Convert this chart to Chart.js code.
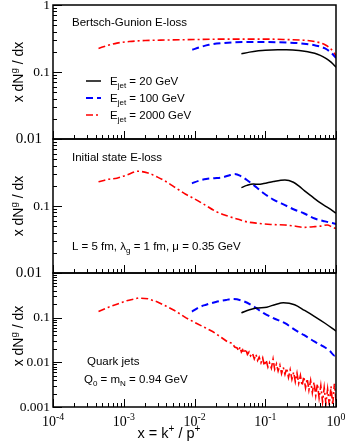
<!DOCTYPE html>
<html lang="en">
<head>
  <meta charset="UTF-8">
  <title>x dN/dx gluon spectra</title>
  <script src="https://cdn.jsdelivr.net/npm/chart.js"></script>
  <style>
    body { margin: 0; background: #fff; }
    #wrap { position: relative; width: 346px; height: 447px; }
    #wrap canvas { position: absolute; left: 0; top: 0; }
  </style>
</head>
<body>
<div id="wrap">
  <canvas id="c1" width="346" height="447"></canvas>
  <canvas id="c2" width="346" height="447"></canvas>
  <canvas id="c3" width="346" height="447"></canvas>
</div>

<script>
  // x axis ticks (log), shared by all panels
  const xTickExps = [-4, -3, -2, -1, 0];

  // Bertsch-Gunion E-loss
  const bgBlackX = [0.046, 0.06, 0.08, 0.1, 0.15, 0.2, 0.3, 0.4, 0.5, 0.6, 0.7, 0.8, 0.9, 1.0];
  const bgBlackY = [0.187, 0.198, 0.207, 0.212, 0.215, 0.215, 0.21, 0.2, 0.19, 0.177, 0.163, 0.148, 0.133, 0.118];
  const bgBlueX = [0.0093, 0.012, 0.016, 0.025, 0.05, 0.1, 0.2, 0.35, 0.5, 0.7, 0.85, 1.0];
  const bgBlueY = [0.215, 0.235, 0.255, 0.27, 0.28, 0.28, 0.275, 0.265, 0.25, 0.225, 0.195, 0.162];
  const bgRedX = [0.00044, 0.0006, 0.0008, 0.0012, 0.002, 0.004, 0.01, 0.03, 0.1, 0.2, 0.35, 0.5, 0.7, 0.85, 1.0];
  const bgRedY = [0.225, 0.25, 0.27, 0.285, 0.295, 0.30, 0.305, 0.31, 0.31, 0.305, 0.298, 0.285, 0.255, 0.22, 0.175];

  // Initial state E-loss
  const isBlackX = [0.046, 0.055, 0.068, 0.08, 0.095, 0.13, 0.19, 0.25, 0.3, 0.36, 0.45, 0.61, 0.8, 1.0];
  const isBlackY = [0.188, 0.203, 0.213, 0.211, 0.216, 0.232, 0.244, 0.226, 0.198, 0.168, 0.14, 0.11, 0.092, 0.078];
  const isBlueX = [0.0092, 0.0115, 0.0146, 0.019, 0.025, 0.032, 0.037, 0.045, 0.055, 0.075, 0.095, 0.13, 0.19, 0.26, 0.35, 0.5, 0.7, 1.0];
  const isBlueY = [0.218, 0.238, 0.253, 0.26, 0.268, 0.29, 0.30, 0.28, 0.244, 0.19, 0.155, 0.125, 0.103, 0.088, 0.078, 0.065, 0.059, 0.054];
  const isRedX = [0.00044, 0.0006, 0.0008, 0.0011, 0.0016, 0.0022, 0.003, 0.004, 0.0055, 0.0075, 0.01, 0.014, 0.02, 0.028, 0.04, 0.055, 0.08, 0.12, 0.19, 0.27, 0.35, 0.48, 0.6, 0.75, 0.9, 1.0];
  const isRedY = [0.23, 0.25, 0.26, 0.29, 0.33, 0.31, 0.27, 0.23, 0.185, 0.15, 0.128, 0.104, 0.083, 0.072, 0.064, 0.058, 0.055, 0.053, 0.052, 0.05, 0.048, 0.049, 0.05, 0.052, 0.048, 0.046];

  // Final state E-loss
  const fsBlackX = [0.046, 0.06, 0.075, 0.105, 0.14, 0.18, 0.26, 0.36, 0.5, 0.7, 1.0];
  const fsBlackY = [0.128, 0.15, 0.164, 0.172, 0.198, 0.215, 0.195, 0.145, 0.106, 0.075, 0.05];
  const fsBlueX = [0.0092, 0.0115, 0.0146, 0.02, 0.028, 0.035, 0.049, 0.07, 0.095, 0.13, 0.19, 0.26, 0.35, 0.5, 0.65, 0.82, 0.95, 1.0];
  const fsBlueY = [0.137, 0.17, 0.195, 0.225, 0.25, 0.262, 0.235, 0.175, 0.126, 0.098, 0.075, 0.054, 0.041, 0.029, 0.023, 0.018, 0.0142, 0.0152];
  const fsRedX = [0.00044, 0.0006, 0.0008, 0.0011, 0.0016, 0.0022, 0.003, 0.004, 0.0055, 0.0075, 0.0106, 0.014, 0.018, 0.024, 0.03, 0.034, 0.037,
    0.040, 0.042, 0.044, 0.046, 0.048, 0.050, 0.053, 0.056, 0.059, 0.062, 0.066, 0.070, 0.074, 0.078, 0.082, 0.087, 0.092, 0.097,
    0.103, 0.109, 0.115, 0.122, 0.129, 0.136, 0.144, 0.152, 0.161, 0.170, 0.180, 0.190, 0.201, 0.213, 0.225, 0.238, 0.252, 0.266,
    0.281, 0.297, 0.314, 0.332, 0.351, 0.371, 0.392, 0.414, 0.438, 0.463, 0.489, 0.517, 0.546, 0.577, 0.610, 0.645, 0.681, 0.720,
    0.761, 0.804, 0.850, 0.898, 0.949, 1.0];
  const fsRedY = [0.137, 0.17, 0.20, 0.24, 0.275, 0.265, 0.225, 0.18, 0.138, 0.1, 0.075, 0.06, 0.049, 0.036, 0.028, 0.027, 0.022,
    0.021, 0.018, 0.022, 0.017, 0.019, 0.016, 0.020, 0.015, 0.017, 0.014, 0.016, 0.012, 0.015, 0.011, 0.013, 0.0098, 0.0125, 0.0084,
    0.0112, 0.0078, 0.0098, 0.0074, 0.0118, 0.0070, 0.0092, 0.0064, 0.0086, 0.0056, 0.0077, 0.0054, 0.0074, 0.0046, 0.0068, 0.0042, 0.0060, 0.0037,
    0.0057, 0.0034, 0.0051, 0.0030, 0.0048, 0.0027, 0.0043, 0.0024, 0.0039, 0.0021, 0.0036, 0.0018, 0.0033, 0.0016, 0.0030, 0.0013, 0.0027, 0.0012,
    0.0025, 0.0011, 0.0029, 0.0011, 0.0033, 0.0014];

  const RED = '#ff0000', BLUE = '#0000ff', BLACK = '#000000';
  const DASH_BLUE = [7, 4];
  const DASH_RED = [7, 3, 2, 3];
  const SANS = '"Liberation Sans", Arial, sans-serif';
  const SERIF = '"Liberation Serif", "Times New Roman", serif';

  function logTicks(min, max) {
    const t = [];
    const e0 = Math.round(Math.log10(min)), e1 = Math.round(Math.log10(max));
    for (let e = e0; e < e1; e++) {
      for (let m = 1; m < 10; m++) t.push({ value: m * Math.pow(10, e), major: m === 1 });
    }
    t.push({ value: max, major: true });
    return t;
  }

  function series(xs, ys, color, dash, width, smooth) {
    return {
      data: xs.map((x, i) => ({ x: x, y: ys[i] })),
      borderColor: color,
      borderDash: dash,
      borderWidth: width,
      pointRadius: 0,
      fill: false,
      cubicInterpolationMode: smooth ? 'monotone' : 'default',
      tension: 0
    };
  }

  // draws a run of text pieces: [text, 'n' | 'sub' | 'sup']
  function rich(ctx, parts, x, y, size, font) {
    ctx.textBaseline = 'alphabetic';
    ctx.textAlign = 'left';
    let cx = x;
    parts.forEach(p => {
      const small = p[1] !== 'n';
      const fs = small ? size * 0.7 : size;
      const dy = p[1] === 'sub' ? size * 0.3 : (p[1] === 'sup' ? -size * 0.42 : 0);
      ctx.font = fs + 'px ' + font;
      ctx.fillText(p[0], cx, y + dy);
      cx += ctx.measureText(p[0]).width;
    });
    return cx - x;
  }

  function richWidth(ctx, parts, size, font) {
    let w = 0;
    parts.forEach(p => {
      ctx.font = (p[1] !== 'n' ? size * 0.7 : size) + 'px ' + font;
      w += ctx.measureText(p[0]).width;
    });
    return w;
  }

  const decor = {
    id: 'decor',
    afterDraw(chart) {
      const o = chart.options.plugins.decor;
      const ctx = chart.ctx;
      const a = chart.chartArea;
      const xs = chart.scales.x, ys = chart.scales.y;
      ctx.save();
      ctx.strokeStyle = '#000';
      ctx.fillStyle = '#000';

      // inward ticks
      ctx.lineWidth = 1;
      ctx.beginPath();
      xs.ticks.forEach(t => {
        const px = Math.round(xs.getPixelForValue(t.value)) + 0.5;
        ctx.moveTo(px, a.bottom);
        ctx.lineTo(px, a.bottom - (t.major ? 8 : 4));
      });
      ys.ticks.forEach(t => {
        const py = Math.round(ys.getPixelForValue(t.value)) + 0.5;
        ctx.moveTo(a.left, py);
        ctx.lineTo(a.left + (t.major ? 9 : 4), py);
      });
      ctx.stroke();

      // frame
      ctx.lineWidth = 1.5;
      ctx.strokeRect(a.left, a.top, a.right - a.left, a.bottom - a.top);

      // y tick labels
      ctx.textAlign = 'right';
      ctx.textBaseline = 'middle';
      o.yLabels.forEach(l => {
        ctx.font = l.size + 'px ' + SERIF;
        ctx.fillText(l.text, l.right, ys.getPixelForValue(l.value));
      });

      // y title
      const tParts = [['x dN', 'n'], ['g', 'sup'], [' / dx', 'n']];
      const tw = richWidth(ctx, tParts, 14, SANS);
      ctx.save();
      ctx.translate(23, (a.top + a.bottom) / 2 + o.titleShift);
      ctx.rotate(-Math.PI / 2);
      rich(ctx, tParts, -tw / 2, 0, 14, SANS);
      ctx.restore();

      // annotations
      o.notes.forEach(n => rich(ctx, n.parts, n.x, n.y, 11.5, SANS));

      // legend
      if (o.legend) {
        chart.data.datasets.forEach((d, i) => {
          const y = o.legend.y[i];
          ctx.save();
          ctx.strokeStyle = d.borderColor;
          ctx.lineWidth = d.borderWidth;
          ctx.setLineDash(d.borderDash || []);
          ctx.beginPath();
          ctx.moveTo(86, y);
          ctx.lineTo(101, y);
          ctx.stroke();
          ctx.restore();
          rich(ctx, [['E', 'n'], ['jet', 'sub'], [' = ' + o.legend.labels[i], 'n']], 110, y + 4, 11.5, SANS);
        });
      }

      // x tick labels and title
      if (o.xLabels) {
        xTickExps.forEach(e => {
          const parts = [['10', 'n'], [String(e), 'sup']];
          const w = richWidth(ctx, parts, 14, SERIF);
          rich(ctx, parts, xs.getPixelForValue(Math.pow(10, e)) - w / 2, 426, 14, SERIF);
        });
        const xp = [['x = k', 'n'], ['+', 'sup'], [' / p', 'n'], ['+', 'sup']];
        const xw = richWidth(ctx, xp, 14.5, SANS);
        rich(ctx, xp, 169 - xw / 2, 438, 14.5, SANS);
      }
      ctx.restore();
    }
  };

  function makeChart(id, top, bottom, yMin, datasets, deco) {
    return new Chart(document.getElementById(id), {
      type: 'line',
      data: { datasets: datasets },
      plugins: [decor],
      options: {
        responsive: false,
        animation: false,
        layout: { padding: { left: 0, right: 10, top: top, bottom: 447 - bottom } },
        scales: {
          x: {
            type: 'logarithmic', min: 1e-4, max: 1,
            ticks: { display: false }, grid: { display: false }, border: { display: false },
            afterBuildTicks: s => { s.ticks = logTicks(1e-4, 1); },
            afterFit: s => { s.height = 0; s.paddingLeft = 0; s.paddingRight = 0; }
          },
          y: {
            type: 'logarithmic', min: yMin, max: 1,
            ticks: { display: false }, grid: { display: false }, border: { display: false },
            afterBuildTicks: s => { s.ticks = logTicks(yMin, 1); },
            afterFit: s => { s.width = 53; s.paddingTop = 0; s.paddingBottom = 0; }
          }
        },
        plugins: { legend: { display: false }, tooltip: { enabled: false }, decor: deco }
      }
    });
  }

  makeChart('c1', 5, 139, 0.01, [
    series(bgBlackX, bgBlackY, BLACK, [], 1.5, true),
    series(bgBlueX, bgBlueY, BLUE, DASH_BLUE, 2, true),
    series(bgRedX, bgRedY, RED, DASH_RED, 1.6, true)
  ], {
    titleShift: 0,
    yLabels: [
      { value: 1, text: '1', size: 13.5, right: 50 },
      { value: 0.1, text: '0.1', size: 13.5, right: 50 },
      { value: 0.01, text: '0.01', size: 15, right: 42 }
    ],
    notes: [{ x: 72, y: 26, parts: [['Bertsch-Gunion E-loss', 'n']] }],
    legend: { y: [81, 98, 115], labels: ['20 GeV', '100 GeV', '2000 GeV'] }
  });

  makeChart('c2', 139, 273, 0.01, [
    series(isBlackX, isBlackY, BLACK, [], 1.5, true),
    series(isBlueX, isBlueY, BLUE, DASH_BLUE, 2, true),
    series(isRedX, isRedY, RED, DASH_RED, 1.6, true)
  ], {
    titleShift: 0,
    yLabels: [
      { value: 0.1, text: '0.1', size: 13.5, right: 50 },
      { value: 0.01, text: '0.01', size: 15, right: 42 }
    ],
    notes: [
      { x: 72, y: 161, parts: [['Initial state E-loss', 'n']] },
      { x: 72, y: 250, parts: [['L = 5 fm, \u03bb', 'n'], ['g', 'sub'], [' = 1 fm, \u03bc = 0.35 GeV', 'n']] }
    ]
  });

  makeChart('c3', 273, 407, 0.001, [
    series(fsBlackX, fsBlackY, BLACK, [], 1.5, true),
    series(fsBlueX, fsBlueY, BLUE, DASH_BLUE, 2, true),
    series(fsRedX, fsRedY, RED, DASH_RED, 1.6, false)
  ], {
    titleShift: -4,
    yLabels: [
      { value: 0.1, text: '0.1', size: 13.5, right: 50 },
      { value: 0.01, text: '0.01', size: 13.5, right: 50 },
      { value: 0.001, text: '0.001', size: 13.5, right: 50 }
    ],
    notes: [
      { x: 87, y: 365, parts: [['Quark jets', 'n']] },
      { x: 84, y: 383, parts: [['Q', 'n'], ['0', 'sub'], [' = m', 'n'], ['N', 'sub'], [' = 0.94 GeV', 'n']] }
    ],
    xLabels: true
  });
</script>
</body>
</html>
